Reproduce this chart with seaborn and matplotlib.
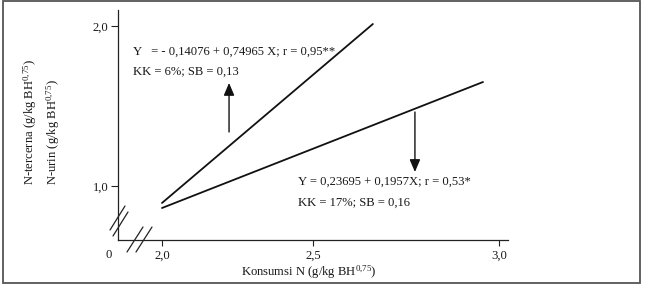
import matplotlib
matplotlib.use('Agg')
import matplotlib.pyplot as plt
import seaborn as sns
import pandas as pd
import numpy as np
from matplotlib.lines import Line2D
from matplotlib.patches import Rectangle

# ---- data ----
konsumsi_tercerna = [2.0, 2.661]
n_tercerna = [0.894, 2.0125]
konsumsi_urin = [2.0, 2.957]
n_urin = [0.8625, 1.65]
x_ticks = [2.0, 2.5, 3.0]
x_tick_labels = ['2,0', '2,5', '3,0']
y_ticks = [1.0, 2.0]
y_tick_labels = ['1,0', '2,0']
eq_tercerna = ['Y   = - 0,14076 + 0,74965 X; r = 0,95**', 'KK = 6%; SB = 0,13']
eq_urin = ['Y = 0,23695 + 0,1957X; r = 0,53*', 'KK = 17%; SB = 0,16']
x_label = 'Konsumsi N (g/kg BH$^{0{,}75}$)'
y_label_1 = 'N-tercerna (g/kg BH$^{0{,}75}$)'
y_label_2 = 'N-urin (g/kg BH$^{0{,}75}$)'

W, H = 645, 286
sns.set_style('ticks')
plt.rcParams['font.family'] = ['Liberation Serif', 'DejaVu Serif']
plt.rcParams['mathtext.fontset'] = 'custom'
plt.rcParams['mathtext.rm'] = 'Liberation Serif'
plt.rcParams['mathtext.it'] = 'Liberation Serif:italic'
plt.rcParams['mathtext.bf'] = 'Liberation Serif:bold'

FS = 9.1
TXT = '#1a1a1a'

fig = plt.figure(figsize=(W / 100, H / 100), dpi=100)


def fx(px):
    return px / W


def fy(py):
    return 1 - py / H


ax = fig.add_axes([fx(118), fy(240), fx(508) - fx(118), fy(10) - fy(240)])

# the original x axis is drawn with unequal spacing between 2,0 / 2,5 / 3,0
_knots_data = np.array([-10.0, 2.0, 2.5, 3.0, 13.0])
_knots_scr = np.array([0.0, 12.0 * 302, 12.0 * 302 + 151, 12.0 * 302 + 151 + 186,
                       12.0 * 302 + 151 + 186 + 10 * 372])


def _fwd(v):
    return np.interp(v, _knots_data, _knots_scr)


def _inv(v):
    return np.interp(v, _knots_scr, _knots_data)


ax.set_xscale('function', functions=(_fwd, _inv))

df = pd.DataFrame({
    'x': konsumsi_tercerna + konsumsi_urin,
    'y': n_tercerna + n_urin,
    'seri': ['tercerna'] * len(konsumsi_tercerna) + ['urin'] * len(konsumsi_urin),
})
sns.lineplot(data=df, x='x', y='y', hue='seri', palette=['#111111', '#111111'],
             legend=False, ax=ax, linewidth=1.3, sort=False)

ax.set_xlim(1.8543, 3.0242)
ax.set_ylim(0.6625, 2.1)
for s in ['top', 'right']:
    ax.spines[s].set_visible(False)
for s in ['left', 'bottom']:
    ax.spines[s].set_color('#222222')
    ax.spines[s].set_linewidth(0.9)
ax.set_xticks(x_ticks, x_tick_labels)
ax.set_xticks([], minor=True)
ax.set_yticks(y_ticks, y_tick_labels)
ax.tick_params(axis='x', direction='out', length=4, width=0.8, labelsize=FS, pad=3,
               colors='#222222', labelcolor=TXT)
ax.tick_params(axis='y', direction='out', length=5, width=0.8, labelsize=FS, pad=2,
               colors='#222222', labelcolor=TXT)
ax.set_xlabel('')
ax.set_ylabel('')

# arrows
arrow_kw = dict(arrowstyle='-|>,head_length=0.75,head_width=0.32', color='#111111',
                lw=1.0, mutation_scale=10, shrinkA=0, shrinkB=0)
ax.annotate('', xy=(2.222, 1.644), xytext=(2.222, 1.3375), arrowprops=arrow_kw)
ax.annotate('', xy=(2.774, 1.0875), xytext=(2.774, 1.4625), arrowprops=arrow_kw)

# equations
fig.text(fx(133), fy(52), eq_tercerna[0], fontsize=FS, color=TXT, ha='left', va='center')
fig.text(fx(133), fy(72), eq_tercerna[1], fontsize=FS, color=TXT, ha='left', va='center')
fig.text(fx(298), fy(182), eq_urin[0], fontsize=FS, color=TXT, ha='left', va='center')
fig.text(fx(298), fy(203), eq_urin[1], fontsize=FS, color=TXT, ha='left', va='center')

# axis labels
fig.text(fx(309), fy(272), x_label, fontsize=FS, color=TXT, ha='center', va='center')
fig.text(fx(30), fy(185), y_label_1, fontsize=FS, color=TXT, rotation=90,
         rotation_mode='anchor', ha='left', va='center')
fig.text(fx(53), fy(185), y_label_2, fontsize=FS, color=TXT, rotation=90,
         rotation_mode='anchor', ha='left', va='center')
fig.text(fx(109), fy(255), '0', fontsize=FS, color=TXT, ha='center', va='center')

# axis break marks
for (x0, y0, x1, y1) in [(110, 230, 125, 206), (113, 236, 128, 212),
                         (127, 252, 143, 227), (136, 252, 152, 227)]:
    fig.add_artist(Line2D([fx(x0), fx(x1)], [fy(y0), fy(y1)], transform=fig.transFigure,
                          color='#222222', lw=0.9))

# figure border
fig.add_artist(Rectangle((fx(3), fy(283)), fx(640) - fx(3), fy(1) - fy(283),
                         transform=fig.transFigure, fill=False, edgecolor='#555555', lw=1.3))

fig.savefig('out.png', dpi=100)
